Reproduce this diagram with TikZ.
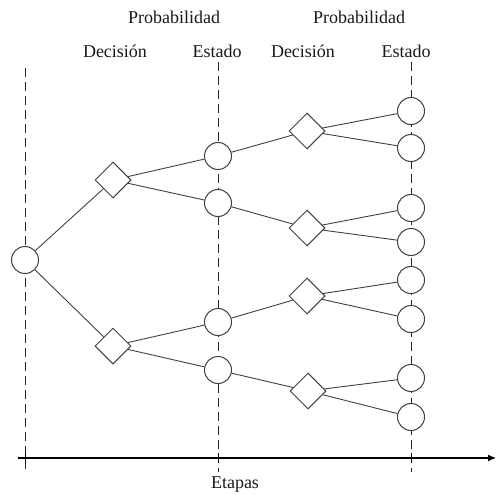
\documentclass[tikz,border=0pt]{standalone}
\usepackage{fontspec}
\setmainfont{Liberation Serif}
\usetikzlibrary{shapes.geometric,arrows.meta}
\begin{document}
\begin{tikzpicture}[x=1pt,y=-1pt,
  chance/.style={circle,draw=black!75,line width=1pt,minimum size=27pt,inner sep=0pt,fill=white},
  decide/.style={diamond,draw=black!75,line width=1pt,minimum size=36pt,inner sep=0pt,fill=white},
  link/.style={draw=black!75,line width=0.9pt},
  guide/.style={draw=black!85,line width=0.9pt,dash pattern=on 9pt off 5pt},
  lbl/.style={font=\fontsize{18}{21}\selectfont,text=black!90}]
\useasboundingbox (0,0) rectangle (496,495);
% guides
\coordinate (g1t) at (25,68); \coordinate (g1b) at (25,472);
\coordinate (g2t) at (218,62); \coordinate (g2b) at (218,472);
\coordinate (g3t) at (411,62); \coordinate (g3b) at (411,472);
\draw[guide] (g1t) -- (g1b);
\draw[guide] (g2t) -- (g2b);
\draw[guide] (g3t) -- (g3b);
% axis
\coordinate (ax0) at (18,458); \coordinate (ax1) at (496,458);
\draw[line width=1.1pt,-{Latex[length=8pt,width=7pt]}] (ax0) -- (ax1);
\foreach \x/\n in {25/t1,218/t2,411/t3}{
  \coordinate (\n a) at (\x,453); \coordinate (\n b) at (\x,463);
  \draw[line width=1pt] (\n a) -- (\n b);}
% labels
\node[lbl] (p1) at (174,17) {Probabilidad};
\node[lbl] (p2) at (359,17) {Probabilidad};
\node[lbl] (d1) at (115,51) {Decisión};
\node[lbl] (e1) at (217,51) {Estado};
\node[lbl] (d2) at (303,51) {Decisión};
\node[lbl] (e2) at (406,51) {Estado};
\node[lbl] (et) at (235,485) {Etapas};
% nodes
\node[chance] (r) at (25,260) {};
\node[decide] (a1) at (113,180) {};
\node[decide] (a2) at (113,346) {};
\node[chance] (s1) at (218,156) {};
\node[chance] (s2) at (218,203) {};
\node[chance] (s3) at (218,322) {};
\node[chance] (s4) at (218,370) {};
\node[decide] (b1) at (307,131) {};
\node[decide] (b2) at (307,228) {};
\node[decide] (b3) at (307,296) {};
\node[decide] (b4) at (308,391) {};
\node[chance] (c1) at (411,111) {};
\node[chance] (c2) at (411,148) {};
\node[chance] (c3) at (411,208) {};
\node[chance] (c4) at (411,242) {};
\node[chance] (c5) at (411,280) {};
\node[chance] (c6) at (411,319) {};
\node[chance] (c7) at (411,378) {};
\node[chance] (c8) at (411,417) {};
% connectors
\draw[link] (r) -- (a1);
\draw[link] (r) -- (a2);
\draw[link] (a1) -- (s1);
\draw[link] (a1) -- (s2);
\draw[link] (a2) -- (s3);
\draw[link] (a2) -- (s4);
\draw[link] (s1) -- (b1);
\draw[link] (s2) -- (b2);
\draw[link] (s3) -- (b3);
\draw[link] (s4) -- (b4);
\draw[link] (b1) -- (c1);
\draw[link] (b1) -- (c2);
\draw[link] (b2) -- (c3);
\draw[link] (b2) -- (c4);
\draw[link] (b3) -- (c5);
\draw[link] (b3) -- (c6);
\draw[link] (b4) -- (c7);
\draw[link] (b4) -- (c8);
\end{tikzpicture}
\end{document}
